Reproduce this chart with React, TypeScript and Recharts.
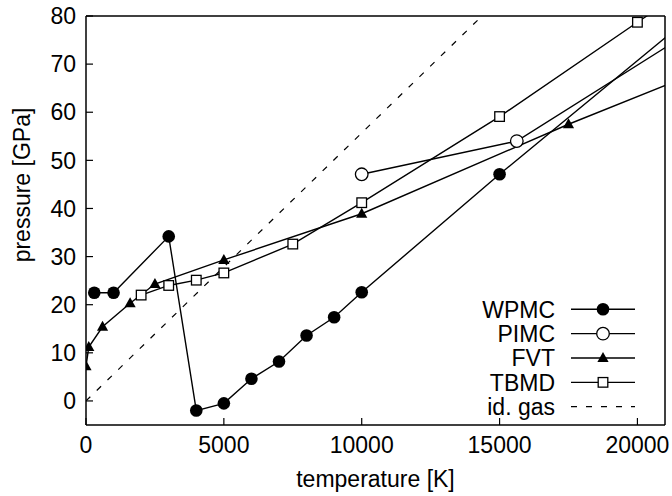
import React from 'react';
import { LineChart, Line, XAxis, YAxis, Legend } from 'recharts';

// temperatures [K] and pressures [GPa]
const wpmcT = [300, 1000, 3000, 4000, 5000, 6000, 7000, 8000, 9000, 10000, 15000, 30000];
const wpmcP = [22.5, 22.5, 34.2, -2.0, -0.5, 4.6, 8.2, 13.6, 17.4, 22.6, 47.1, 118];

const pimcT = [10000, 15625, 31250];
const pimcP = [47.1, 54.0, 110.4];

const fvtT = [0, 100, 600, 1600, 2500, 5000, 10000, 17500, 25000];
const fvtP = [7.2, 11.2, 15.4, 20.3, 24.3, 29.3, 38.9, 57.5, 74.8];

const tbmdT = [2000, 3000, 4000, 5000, 7500, 10000, 15000, 20000, 25000];
const tbmdP = [22.0, 24.0, 25.1, 26.6, 32.6, 41.2, 59.1, 78.7, 98];

const gasT = [0, 20000];
const gasP = [0, 111.4];

const xTicks = [0, 5000, 10000, 15000, 20000];
const yTicks = [0, 10, 20, 30, 40, 50, 60, 70, 80];

const seriesNames = ['WPMC', 'PIMC', 'FVT', 'TBMD', 'id. gas'];

const toRows = (t: number[], p: number[]) => t.map((x, i) => ({ t: x, p: p[i] }));

const wpmc = toRows(wpmcT, wpmcP);
const pimc = toRows(pimcT, pimcP);
const fvt = toRows(fvtT, fvtP);
const tbmd = toRows(tbmdT, tbmdP);
const gas = toRows(gasT, gasP);

const FONT = '"Liberation Sans", Arial, Helvetica, sans-serif';
const LW = 1.4;
const DASH = '6 9';

// markers, gnuplot style
const FilledCircle = ({ cx, cy }: any) =>
  cx == null ? null : <circle cx={cx} cy={cy} r={6.3} fill="#000" />;

const OpenCircle = ({ cx, cy }: any) =>
  cx == null ? null : <circle cx={cx} cy={cy} r={6.3} fill="#fff" stroke="#000" strokeWidth={1.3} />;

const Triangle = ({ cx, cy }: any) =>
  cx == null ? null : (
    <polygon points={`${cx},${cy - 6} ${cx - 5.6},${cy + 4} ${cx + 5.6},${cy + 4}`} fill="#000" />
  );

const Square = ({ cx, cy }: any) =>
  cx == null ? null : (
    <rect x={cx - 4.8} y={cy - 4.8} width={9.6} height={9.6} fill="#fff" stroke="#000" strokeWidth={1.3} />
  );

const markers = [FilledCircle, OpenCircle, Triangle, Square, null];

const LegendBox = () => (
  <svg width={230} height={135} style={{ overflow: 'visible' }}>
    {seriesNames.map((name, i) => {
      const y = 19.3 + i * 24.35;
      const M = markers[i];
      return (
        <g key={name}>
          <text x={115} y={y + 8.2} textAnchor="end" fontSize={23} fontFamily={FONT} fill="#000">
            {name}
          </text>
          <line
            x1={131}
            x2={195}
            y1={y}
            y2={y}
            stroke="#000"
            strokeWidth={i === 4 ? 1.2 : LW}
            strokeDasharray={i === 4 ? DASH : undefined}
          />
          {M && <M cx={163} cy={y} />}
        </g>
      );
    })}
  </svg>
);

const tickStyle = { fontSize: 23, fill: '#000', fontFamily: FONT };
const axisLineStyle = { stroke: '#000', strokeWidth: 1.5 };
const tickLineStyle = { stroke: '#000', strokeWidth: 1.2 };

export default function App() {
  return (
    <div style={{ position: 'absolute', left: 0, top: 0, width: 672, height: 496, background: '#fff' }}>
      <LineChart width={672} height={496} margin={{ top: 15, right: 6, bottom: 70, left: 85 }}>
        <XAxis
          xAxisId="b"
          type="number"
          dataKey="t"
          domain={[0, 21000]}
          ticks={xTicks}
          allowDataOverflow
          height={1}
          tickSize={-7}
          tickMargin={19}
          tick={tickStyle}
          axisLine={axisLineStyle}
          tickLine={tickLineStyle}
          label={{
            content: ({ viewBox }: any) => (
              <text
                x={viewBox.x + viewBox.width / 2}
                y={487}
                textAnchor="middle"
                fontSize={23}
                fontFamily={FONT}
                fill="#000"
              >
                temperature [K]
              </text>
            ),
          }}
        />
        <XAxis
          xAxisId="top"
          orientation="top"
          type="number"
          dataKey="t"
          domain={[0, 21000]}
          ticks={xTicks}
          allowDataOverflow
          height={1}
          tickSize={-7}
          tick={false}
          axisLine={axisLineStyle}
          tickLine={tickLineStyle}
        />
        <YAxis
          yAxisId="l"
          type="number"
          dataKey="p"
          domain={[-5, 80]}
          ticks={yTicks}
          allowDataOverflow
          width={1}
          tickSize={-7}
          tickMargin={17}
          tick={tickStyle}
          axisLine={axisLineStyle}
          tickLine={tickLineStyle}
          label={{
            content: () => (
              <text
                x={30}
                y={185}
                transform="rotate(-90 30 185)"
                textAnchor="middle"
                fontSize={23}
                fontFamily={FONT}
                fill="#000"
              >
                pressure [GPa]
              </text>
            ),
          }}
        />
        <YAxis
          yAxisId="r"
          orientation="right"
          type="number"
          dataKey="p"
          domain={[-5, 80]}
          ticks={yTicks}
          allowDataOverflow
          width={1}
          tickSize={-7}
          tick={false}
          axisLine={axisLineStyle}
          tickLine={tickLineStyle}
        />
        <Line xAxisId="b" yAxisId="l" data={wpmc} dataKey="p" name="WPMC" stroke="#000" strokeWidth={LW}
          dot={<FilledCircle />} activeDot={false} isAnimationActive={false} type="linear" />
        <Line xAxisId="b" yAxisId="l" data={pimc} dataKey="p" name="PIMC" stroke="#000" strokeWidth={LW}
          dot={<OpenCircle />} activeDot={false} isAnimationActive={false} type="linear" />
        <Line xAxisId="b" yAxisId="l" data={fvt} dataKey="p" name="FVT" stroke="#000" strokeWidth={LW}
          dot={<Triangle />} activeDot={false} isAnimationActive={false} type="linear" />
        <Line xAxisId="b" yAxisId="l" data={tbmd} dataKey="p" name="TBMD" stroke="#000" strokeWidth={LW}
          dot={<Square />} activeDot={false} isAnimationActive={false} type="linear" />
        <Line xAxisId="b" yAxisId="l" data={gas} dataKey="p" name="id. gas" stroke="#000" strokeWidth={1.2}
          strokeDasharray={DASH} dot={false} activeDot={false} isAnimationActive={false} type="linear" />
        <Legend
          layout="horizontal"
          verticalAlign="middle"
          align="center"
          content={() => <LegendBox />}
          wrapperStyle={{ left: 440, top: 290, width: 230, height: 135, pointerEvents: 'none' }}
        />
      </LineChart>
    </div>
  );
}
